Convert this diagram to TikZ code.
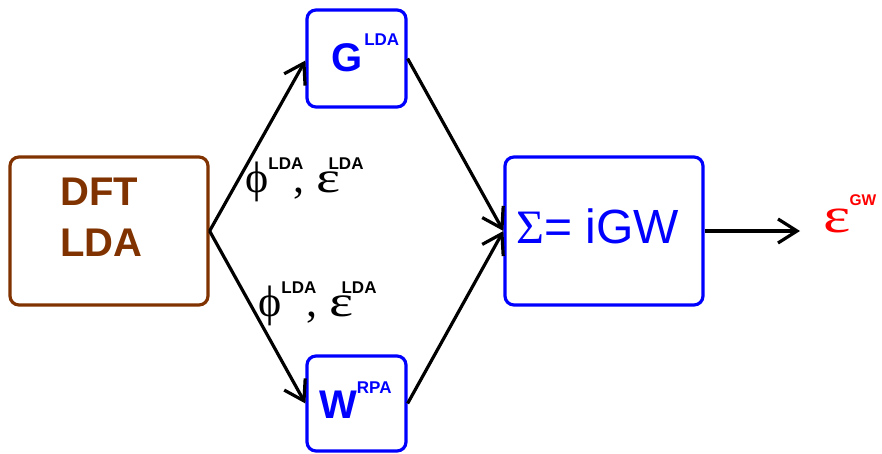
\documentclass[tikz,border=0pt]{standalone}
\usepackage{fontspec}
\setmainfont{Liberation Sans}
\newfontfamily\grfont{Liberation Serif}
\usetikzlibrary{arrows.meta}
\definecolor{dftbrown}{RGB}{128,51,0}
\definecolor{sigblue}{RGB}{0,0,255}
\definecolor{gwred}{RGB}{255,0,0}
\newcommand{\supfont}{\fontsize{17}{17}\selectfont\bfseries}
\newcommand{\wideeps}{\scalebox{1.3}[1]{\grfont ε}}
\tikzset{
  box/.style={draw, line width=3.2pt, rounded corners=9pt, inner sep=0pt},
  conn/.style={line width=3.2pt, -{Straight Barb[length=19pt,width=24pt]}},
  lbl/.style={inner sep=0pt, anchor=base west}
}
\begin{document}
\begin{tikzpicture}[x=1pt,y=-1pt]
\useasboundingbox (0,0) rectangle (882,454);
% boxes
\node[box, draw=dftbrown, minimum width=198pt, minimum height=148pt] (dft) at (109,231) {};
\node[box, draw=sigblue, minimum width=99pt, minimum height=97pt] (g) at (356.5,58.5) {};
\node[box, draw=sigblue, minimum width=99pt, minimum height=95pt] (w) at (356.5,403.5) {};
\node[box, draw=sigblue, minimum width=198pt, minimum height=148pt] (sig) at (604,231) {};
% texts in boxes
\node[lbl, text=dftbrown, font=\fontsize{40}{40}\selectfont\bfseries] (dft1) at (60,206) {DFT};
\node[lbl, text=dftbrown, font=\fontsize{40}{40}\selectfont\bfseries] (dft2) at (60,256) {LDA};
\node[lbl, text=sigblue, font=\fontsize{40}{40}\selectfont\bfseries] (gtxt) at (331,72) {G\hspace{2pt}\raisebox{26pt}{\supfont LDA}};
\node[lbl, text=sigblue, font=\fontsize{40}{40}\selectfont\bfseries] (wtxt) at (319,418) {W\raisebox{25pt}{\supfont RPA}};
\node[lbl, text=sigblue, font=\fontsize{48}{48}\selectfont] (sigtxt) at (516,243) {{\grfont Σ}= iGW};
% output
\coordinate (out) at (800,231);
\node[lbl, text=gwred, font=\fontsize{50}{50}\selectfont] (eps) at (823,232) {\wideeps\hspace{-1pt}\raisebox{26pt}{\fontsize{15.5}{15.5}\selectfont\bfseries GW}};
% edge labels
\node[lbl, font=\fontsize{44}{44}\selectfont] (lab1) at (245,193) {{\grfont ϕ}\rlap{\raisebox{23pt}{\supfont LDA}}\hspace{25pt}{\grfont ,} \wideeps\rlap{\hspace{-12pt}\raisebox{23pt}{\supfont LDA}}};
\node[lbl, font=\fontsize{44}{44}\selectfont] (lab2) at (258,316) {{\grfont ϕ}\rlap{\raisebox{23pt}{\supfont LDA}}\hspace{25pt}{\grfont ,} \wideeps\rlap{\hspace{-12pt}\raisebox{23pt}{\supfont LDA}}};
% connectors
\draw[conn] (dft.east) -- ([yshift=-2pt]g.west);
\draw[conn] (dft.east) -- (w.west);
\draw[conn] (g.east) -- (sig.west);
\draw[conn] (w.east) -- (sig.west);
\draw[conn] (sig.east) -- (out);
\end{tikzpicture}
\end{document}
